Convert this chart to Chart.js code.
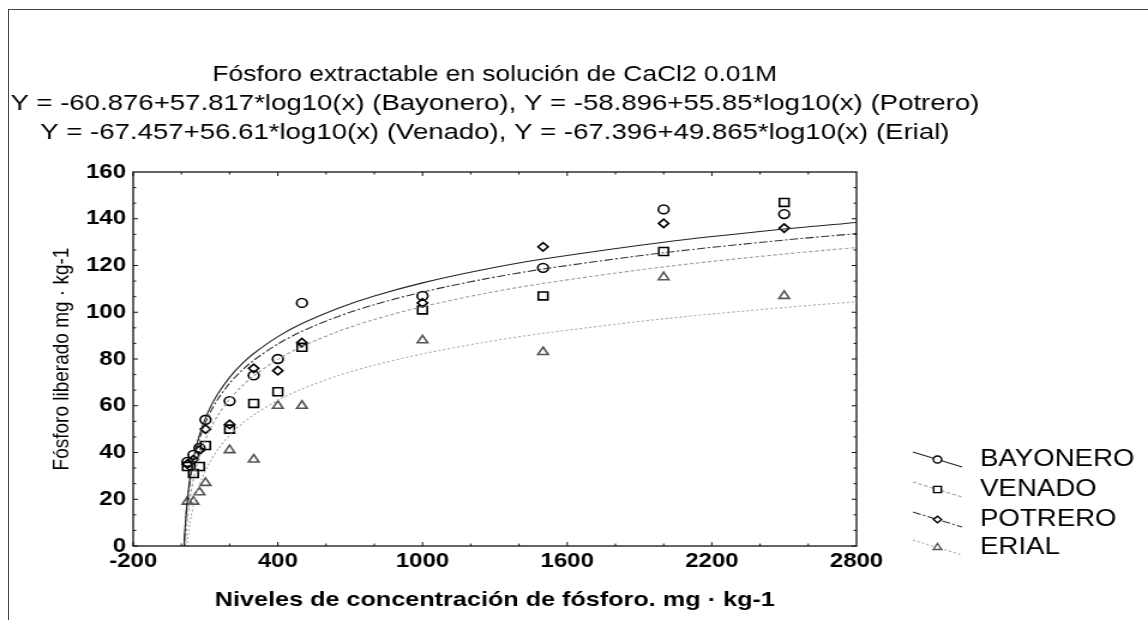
<!DOCTYPE html>
<html>
<head>
<meta charset="utf-8">
<script src="https://cdn.jsdelivr.net/npm/chart.js@4.4.1/dist/chart.umd.min.js"></script>
<style>
    html, body { margin: 0; padding: 0; background: #fff; overflow: hidden; }
    /* the original scan is stretched sideways, so the chart is drawn narrower and scaled */
    #wrap { position: absolute; left: 0; top: 0; width: 957px; height: 620px;
            transform: scaleX(1.1996); transform-origin: 0 0; }
    #frame { position: absolute; left: 8px; top: 9px; width: 1200px; height: 700px;
             border-left: 1px solid #444; border-top: 1px solid #444; }
</style>
</head>
<body>
<div id="frame"></div>
<div id="wrap"><canvas id="fosforoChart"></canvas></div>

<script>
// Niveles de concentración de fósforo (mg/kg)
const niveles = [25, 50, 75, 100, 200, 300, 400, 500, 1000, 1500, 2000, 2500];

// Fósforo liberado (mg/kg)
const bayonero = [36, 39, 42, 54, 62, 73, 80, 104, 107, 119, 144, 142];
const venado   = [34, 31, 34, 43, 50, 61, 66, 85, 101, 107, 126, 147];
const potrero  = [35, 37, 41, 50, 52, 76, 75, 87, 104, 128, 138, 136];
const erial    = [19, 19, 23, 27, 41, 37, 60, 60, 88, 83, 115, 107];

// Ajustes Y = a + b*log10(x) del título (mismo orden que la leyenda)
const seriesNames = ['BAYONERO', 'VENADO', 'POTRERO', 'ERIAL'];
const intercepts = [-60.876, -67.457, -58.896, -67.396];
const slopes = [57.817, 56.61, 55.85, 49.865];

// x en los que se evalúa cada curva ajustada
const curveX = [10, 11, 12, 13, 14, 15, 16, 17, 18, 20, 22, 24, 27, 30, 35, 40, 50, 60, 70, 85,
                100, 120, 150, 200, 250, 300, 400, 500, 650, 800, 1000, 1250, 1500, 2000, 2500, 2800];

const xTicks = [-200, 400, 1000, 1600, 2200, 2800];
const yTicks = [0, 20, 40, 60, 80, 100, 120, 140, 160];

const titleLines = [
    'Fósforo extractable en solución de CaCl2 0.01M',
    'Y = -60.876+57.817*log10(x) (Bayonero), Y = -58.896+55.85*log10(x) (Potrero)',
    'Y = -67.457+56.61*log10(x) (Venado), Y = -67.396+49.865*log10(x) (Erial)'
];

// Estilos de cada suelo
const pointStyles = ['circle', 'rect', 'rectRot', 'triangle'];
const pointSizes = [4.4, 5.6, 4.2, 5];
const pointColors = ['#000', '#000', '#000', '#555'];
const lineColors = ['#222', '#999', '#333', '#aaa'];
const lineDashes = [[], [3, 2], [7, 2, 2, 2], [2, 2]];

const FONT = "'Liberation Sans', Arial, sans-serif";

function buildDatasets() {
    const values = [bayonero, venado, potrero, erial];
    const sets = [];

    // Curvas ajustadas
    values.forEach((v, i) => {
        sets.push({
            type: 'line',
            label: seriesNames[i] + ' ajuste',
            data: curveX.map(x => ({ x: x, y: intercepts[i] + slopes[i] * Math.log10(x) })),
            borderColor: lineColors[i],
            borderWidth: 1.1,
            borderDash: lineDashes[i],
            pointRadius: 0,
            tension: 0.3,
            fill: false
        });
    });

    // Puntos medidos
    values.forEach((v, i) => {
        sets.push({
            type: 'scatter',
            label: seriesNames[i],
            data: niveles.map((x, k) => ({ x: x, y: v[k] })),
            pointStyle: pointStyles[i],
            pointRadius: pointSizes[i],
            borderColor: pointColors[i],
            backgroundColor: 'rgba(0,0,0,0)',
            borderWidth: 1.6
        });
    });
    return sets;
}

// Marco del gráfico con marcas hacia dentro
const boxPlugin = {
    id: 'caja',
    afterDraw(chart) {
        const { ctx, chartArea: a, scales } = chart;
        ctx.save();
        ctx.strokeStyle = '#111';
        ctx.lineWidth = 1.3;
        ctx.strokeRect(a.left, a.top, a.right - a.left, a.bottom - a.top);

        ctx.lineWidth = 1;
        ctx.beginPath();
        // eje y: dos marcas menores entre cada etiqueta
        for (let k = 0; k < yTicks.length - 1; k++) {
            for (let m = 0; m < 3; m++) {
                const v = yTicks[k] + m * (yTicks[k + 1] - yTicks[k]) / 3;
                const py = scales.y.getPixelForValue(v);
                const len = m === 0 ? 4 : 2.5;
                ctx.moveTo(a.left, py); ctx.lineTo(a.left + len, py);
                ctx.moveTo(a.right, py); ctx.lineTo(a.right - len, py);
            }
        }
        // eje x
        for (let k = 0; k < xTicks.length - 1; k++) {
            for (let m = 0; m < 3; m++) {
                const v = xTicks[k] + m * (xTicks[k + 1] - xTicks[k]) / 3;
                const px = scales.x.getPixelForValue(v);
                const len = m === 0 ? 4 : 2.5;
                ctx.moveTo(px, a.bottom); ctx.lineTo(px, a.bottom - len);
                ctx.moveTo(px, a.top); ctx.lineTo(px, a.top + len);
            }
        }
        ctx.stroke();
        ctx.restore();
    }
};

// Título de tres líneas
const titlePlugin = {
    id: 'titulo',
    afterDraw(chart) {
        const { ctx, chartArea: a } = chart;
        const cx = (a.left + a.right) / 2;
        const rows = [75, 104, 133];
        const stretch = [1, 1.045, 1.045];
        ctx.save();
        ctx.fillStyle = '#000';
        ctx.font = '22px ' + FONT;
        ctx.textAlign = 'center';
        ctx.textBaseline = 'middle';
        titleLines.forEach((t, i) => {
            ctx.save();
            ctx.translate(cx, rows[i]);
            ctx.scale(stretch[i], 1);
            ctx.fillText(t, 0, 0);
            ctx.restore();
        });
        ctx.restore();
    }
};

// Leyenda a la derecha, con trazo inclinado y símbolo
const legendPlugin = {
    id: 'leyenda',
    afterDraw(chart) {
        const ctx = chart.ctx;
        const rows = [460, 490, 520, 548];
        const x0 = 761, x1 = 802, textX = 817;
        ctx.save();
        seriesNames.forEach((name, i) => {
            const y = rows[i];
            ctx.strokeStyle = lineColors[i];
            ctx.lineWidth = 1.1;
            ctx.setLineDash(lineDashes[i]);
            ctx.beginPath();
            ctx.moveTo(x0, y - 8);
            ctx.lineTo(x1, y + 7);
            ctx.stroke();
            ctx.setLineDash([]);
            ctx.strokeStyle = pointColors[i];
            ctx.fillStyle = '#fff';
            ctx.lineWidth = 1.4;
            Chart.helpers.drawPoint(ctx, {
                pointStyle: pointStyles[i],
                radius: pointSizes[i] * 0.8,
                rotation: 0,
                borderWidth: 1.4
            }, (x0 + x1) / 2, y - 0.5);
            ctx.fillStyle = '#000';
            ctx.font = '23px ' + FONT;
            ctx.textAlign = 'left';
            ctx.textBaseline = 'middle';
            ctx.fillText(name, textX, y);
        });
        ctx.restore();
    }
};

document.addEventListener('DOMContentLoaded', () => {
    const ctx = document.getElementById('fosforoChart').getContext('2d');
    new Chart(ctx, {
        type: 'scatter',
        data: { datasets: buildDatasets() },
        options: {
            responsive: true,
            maintainAspectRatio: false,
            animation: false,
            layout: { padding: { left: 0, top: 172, right: 243, bottom: 0 } },
            plugins: {
                legend: { display: false },
                title: { display: false },
                tooltip: { enabled: false }
            },
            scales: {
                x: {
                    type: 'linear',
                    min: -200,
                    max: 2800,
                    afterBuildTicks: s => { s.ticks = xTicks.map(v => ({ value: v })); },
                    afterFit: s => { s.height = 74; },
                    grid: { display: false, drawTicks: false },
                    border: { display: false },
                    ticks: {
                        color: '#000', padding: 3,
                        font: { family: FONT, size: 20, weight: 'bold' },
                        callback: v => String(v)
                    },
                    title: {
                        display: true,
                        text: 'Niveles de concentración de fósforo. mg · kg-1',
                        color: '#000',
                        font: { family: FONT, size: 21, weight: 'bold' },
                        padding: { top: 0, bottom: 7 }
                    }
                },
                y: {
                    min: 0,
                    max: 160,
                    afterBuildTicks: s => { s.ticks = yTicks.map(v => ({ value: v })); },
                    afterFit: s => { s.width = 111; },
                    grid: { display: false, drawTicks: false },
                    border: { display: false },
                    ticks: {
                        color: '#000', padding: 6,
                        font: { family: FONT, size: 20, weight: 'bold' },
                        callback: v => String(v)
                    },
                    title: {
                        display: true,
                        text: 'Fósforo liberado mg · kg-1',
                        color: '#000',
                        font: { family: FONT, size: 19 },
                        padding: { top: 40, bottom: 0 }
                    }
                }
            }
        },
        plugins: [boxPlugin, titlePlugin, legendPlugin]
    });
});
</script>
</body>
</html>
